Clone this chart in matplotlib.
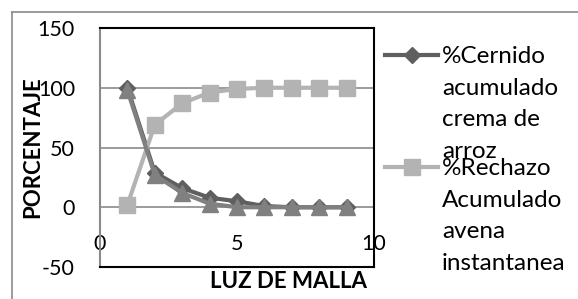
import matplotlib.pyplot as plt
from matplotlib.lines import Line2D

plt.rcParams['font.family'] = ['Lato', 'DejaVu Sans']
plt.rcParams['axes.unicode_minus'] = False

luz = [1, 2, 3, 4, 5, 6, 7, 8, 9]
cernido_arroz = [100, 29, 16, 8, 5, 1, 0, 0, 0]
rechazo_avena = [2, 69, 87, 96, 99, 100, 100, 100, 100]
cernido_avena = [98, 27, 12, 3, 0, 0, 0, 0, 0]

label_arroz = "%Cernido\nacumulado\ncrema de\narroz"
label_avena = "%Rechazo\nAcumulado\navena\ninstantanea"

fig = plt.figure(figsize=(5.78, 2.99), dpi=100)
ax = fig.add_axes([100 / 578, 32 / 299, 274 / 578, 239 / 299])

ax.plot(luz, cernido_arroz, color="#5f5f5f", lw=3, marker="D", ms=8, zorder=3)
ax.plot(luz, rechazo_avena, color="#b3b3b3", lw=3, marker="s", ms=11, zorder=3)
ax.plot(luz, cernido_avena, color="#808080", lw=3, marker="^", ms=12, zorder=4)

ax.set_xlim(0, 10)
ax.set_ylim(-50, 150)
ax.set_yticks([-50, 0, 50, 100, 150])
ax.tick_params(axis="y", length=0, pad=18, labelsize=15.5)
ax.set_xticks([])
for y in [0, 50, 100]:
    ax.axhline(y, color="#8a8a8a", lw=1.2, zorder=1)

for s in ["top", "right", "bottom"]:
    ax.spines[s].set_color("black")
    ax.spines[s].set_linewidth(1.5)
ax.spines["left"].set_color("#8a8a8a")
ax.spines["left"].set_linewidth(1.5)

sec = ax.secondary_xaxis(0.25)
sec.set_xticks([0, 5, 10])
sec.tick_params(length=0, pad=19, labelsize=15.5)
sec.spines["bottom"].set_visible(False)

fig.text(33 / 578, 1 - 147 / 299, "PORCENTAJE", rotation=90, fontsize=16,
         fontweight="bold", ha="center", va="center")
fig.text(289 / 578, 1 - 281 / 299, "LUZ DE MALLA", fontsize=16,
         fontweight="bold", ha="center", va="center")

# legend drawn by hand so the key sits at the first text line, as in the source
fig.add_artist(Line2D([385 / 578, 438 / 578], [1 - 55 / 299] * 2, color="#5f5f5f", lw=3))
fig.add_artist(Line2D([412 / 578], [1 - 55 / 299], color="#5f5f5f", marker="D", ms=8))
fig.add_artist(Line2D([385 / 578, 438 / 578], [1 - 167 / 299] * 2, color="#b3b3b3", lw=3))
fig.add_artist(Line2D([412 / 578], [1 - 167 / 299], color="#b3b3b3", marker="s", ms=11))
fig.text(442 / 578, 1 - 46 / 299, label_arroz, fontsize=17.5, va="top", linespacing=1.62)
fig.text(442 / 578, 1 - 158 / 299, label_avena, fontsize=17.5, va="top", linespacing=1.62)

fig.add_artist(Line2D([12 / 578, 1], [1 - 12 / 299] * 2, color="#8a8a8a", lw=1.2))
fig.add_artist(Line2D([12 / 578] * 2, [1 - 12 / 299, 0], color="#8a8a8a", lw=1.2))

fig.savefig("out.png", dpi=100)
